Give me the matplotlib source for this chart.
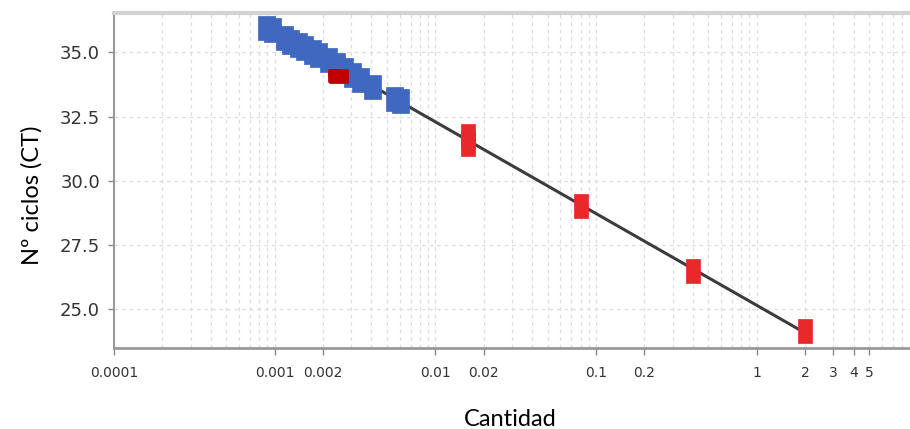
import numpy as np
import matplotlib
matplotlib.use("Agg")
import matplotlib.pyplot as plt
from matplotlib.markers import MarkerStyle
from matplotlib.ticker import FixedLocator, LogLocator, NullFormatter

# muestras (azul)
muestras_x = [0.00088, 0.00096, 0.00114, 0.00124, 0.00140, 0.00152, 0.00171, 0.00186,
              0.00215, 0.00241, 0.00270, 0.00303, 0.00340, 0.00403, 0.00552, 0.00602]
muestras_ct = [35.95, 35.87, 35.56, 35.40, 35.28, 35.17, 35.01, 34.90,
               34.70, 34.51, 34.31, 34.12, 33.92, 33.65, 33.18, 33.11]

# estándares (rojo)
estandar_x = [0.016, 0.016, 0.08, 0.4, 2.0]
estandar_ct = [31.75, 31.45, 29.02, 26.49, 24.16]

# muestra destacada (rojo oscuro)
destacada_x = [0.00248]
destacada_ct = [34.10]

ticks_x = [0.0001, 0.001, 0.002, 0.01, 0.02, 0.1, 0.2, 1, 2, 3, 4, 5]
etiquetas_x = ["0.0001", "0.001", "0.002", "0.01", "0.02", "0.1", "0.2", "1", "2", "3", "4", "5"]
ticks_y = [25.0, 27.5, 30.0, 32.5, 35.0]

fig = plt.figure(figsize=(9.1, 4.29), dpi=100)
ax = fig.add_axes([114 / 910, 1 - 347.7 / 429, 1 - 114 / 910, (347.7 - 13.3) / 429])

# recta de regresión de los estándares
pend, orig = np.polyfit(np.log10(estandar_x), estandar_ct, 1)
rx = np.array([min(muestras_x), max(estandar_x)])
ax.plot(rx, orig + pend * np.log10(rx), color="#3c3c3c", lw=2.2, zorder=2)

rect_azul = MarkerStyle([(-0.36, -0.5), (0.36, -0.5), (0.36, 0.5), (-0.36, 0.5), (-0.36, -0.5)])
rect_rojo = MarkerStyle([(-0.3, -0.5), (0.3, -0.5), (0.3, 0.5), (-0.3, 0.5), (-0.3, -0.5)])
rect_h = MarkerStyle([(-0.5, -0.35), (0.5, -0.35), (0.5, 0.35), (-0.5, 0.35), (-0.5, -0.35)],
                     joinstyle="round")

ax.plot(muestras_x, muestras_ct, ls="none", marker=rect_azul, ms=17,
        mfc="#4068c0", mec="#4068c0", mew=0.5, zorder=3)
ax.plot(estandar_x, estandar_ct, ls="none", marker=rect_rojo, ms=17,
        mfc="#e8282b", mec="#e8282b", mew=0.5, zorder=3)
ax.plot(destacada_x, destacada_ct, ls="none", marker=rect_h, ms=13,
        mfc="#c00000", mec="#c00000", mew=2, zorder=4)

ax.set_xscale("log")
ax.set_xlim(1e-4, 8.98)
ax.set_ylim(23.51, 36.52)

ax.xaxis.set_major_locator(FixedLocator(ticks_x))
ax.set_xticklabels(etiquetas_x)
ax.xaxis.set_minor_locator(LogLocator(base=10, subs=np.arange(1, 10), numticks=50))
ax.xaxis.set_minor_formatter(NullFormatter())
ax.set_yticks(ticks_y)
ax.set_yticklabels([f"{v:.1f}" for v in ticks_y])

ax.tick_params(axis="x", which="major", length=5, width=1, color="#888888", pad=8,
               labelsize=10, labelcolor="#333333")
ax.tick_params(axis="x", which="minor", length=0)
ax.tick_params(axis="y", which="major", length=4, width=1, color="#888888", pad=6,
               labelsize=13, labelcolor="#333333")
for lab in ax.get_xticklabels() + ax.get_yticklabels():
    lab.set_family(["Liberation Sans Narrow", "DejaVu Sans"])

ax.grid(True, axis="x", which="both", color="#dedede", lw=0.9, ls=(0, (3, 3)))
ax.grid(True, axis="y", which="major", color="#dedede", lw=0.9, ls=(0, (3, 3)))
ax.set_axisbelow(True)

ax.spines["right"].set_visible(False)
ax.spines["top"].set_color("#d2d2d2")
ax.spines["top"].set_linewidth(3)
ax.spines["left"].set_color("#999999")
ax.spines["left"].set_linewidth(1.5)
ax.spines["bottom"].set_color("#999999")
ax.spines["bottom"].set_linewidth(2)

fig.text(32 / 910, 1 - 195 / 429, "Nº ciclos (CT)", rotation=90, ha="center", va="center",
         fontsize=17, family=["Lato", "DejaVu Sans"], color="black")
fig.text(510 / 910, 1 - 419 / 429, "Cantidad", ha="center", va="center",
         fontsize=17, family=["Lato", "DejaVu Sans"], color="black")

fig.savefig("out.png", dpi=100)
